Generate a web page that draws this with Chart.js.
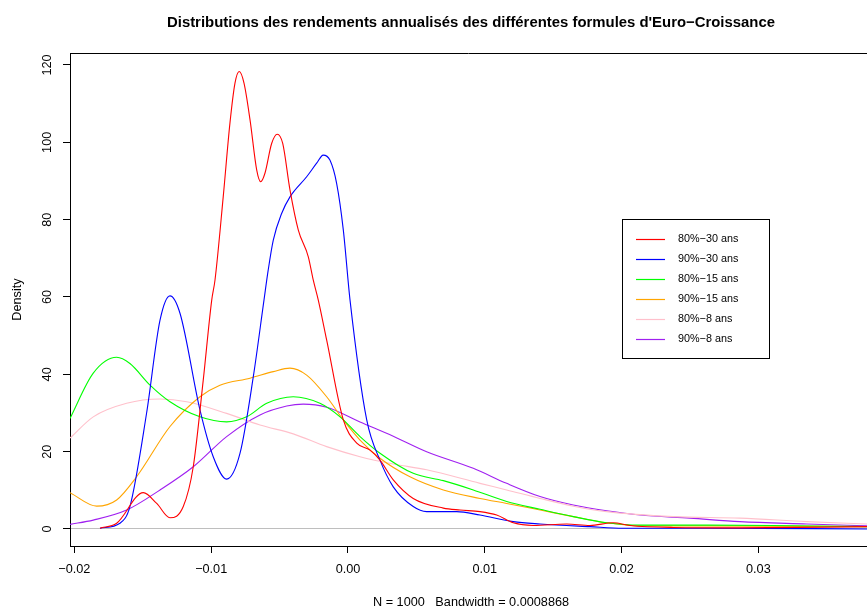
<html>
<head>
<title>Euro-Croissance</title>
</head>
<body style="margin:0;background:#fff">
<script src="https://cdn.jsdelivr.net/npm/chart.js@4.4.1/dist/chart.umd.min.js"></script>
<canvas id="myChart" width="867" height="607"></canvas>

<script type="text/javascript">
// densities, [x, density]
var red80_30 = [[-0.01813,0.2],[-0.01691,1.5],[-0.01496,9.4],[-0.01398,6.6],[-0.01301,2.9],[-0.01204,5.8],
  [-0.01131,16.1],[-0.01058,38.5],[-0.00996,59.2],[-0.00972,64.4],[-0.00912,85.9],[-0.00863,104.9],
  [-0.00826,115.3],[-0.00795,118.3],[-0.00760,115.3],[-0.00716,105.8],[-0.00667,92.8],[-0.00638,89.8],
  [-0.00607,92.0],[-0.00558,99.7],[-0.00517,102.1],[-0.00477,99.7],[-0.00424,87.7],[-0.00363,77.3],
  [-0.00290,70.4],[-0.00254,64.4],[-0.00217,59.2],[-0.00156,48.9],[-0.00034,28.2],[0.00064,22.2],
  [0.00161,20.4],[0.00234,17.8],[0.00331,12.7],[0.00477,7.9],[0.00697,5.4],[0.00819,4.9],[0.00965,4.5],
  [0.01087,3.6],[0.01208,1.6],[0.01355,0.9],[0.01599,1.3],[0.01769,0.9],[0.01939,1.6],[0.02061,0.9],
  [0.02378,0.4],[0.02865,0.3],[0.03794,0.6]];
var blue90_30 = [[-0.01813,0.2],[-0.01667,1.5],[-0.01594,5.8],[-0.01472,30.0],[-0.01374,54.0],[-0.01301,60.3],
  [-0.01228,55.8],[-0.01082,30.8],[-0.00985,18.7],[-0.00887,12.9],[-0.00789,19.6],[-0.00692,39.4],
  [-0.00614,59.2],[-0.00583,67.0],[-0.00546,74.7],[-0.00485,81.6],[-0.00424,85.9],[-0.00302,91.1],
  [-0.00229,94.6],[-0.00181,96.7],[-0.00132,95.4],[-0.00083,89.4],[-0.00034,77.3],[0.00015,59.2],
  [0.00137,28.2],[0.00234,17.8],[0.00331,10.9],[0.00477,5.8],[0.00575,4.5],[0.00795,4.5],[0.00965,3.6],
  [0.01208,1.9],[0.01404,1.3],[0.01769,0.6],[0.02012,0.2],[0.02622,0.2],[0.03794,0]];
var green80_15 = [[-0.02032,28.6],[-0.01862,40.3],[-0.01691,44.4],[-0.01594,42.8],[-0.01447,37.2],
  [-0.01301,32.9],[-0.01082,29.0],[-0.00887,27.7],[-0.00741,29.0],[-0.00594,32.5],[-0.00400,34.2],
  [-0.00205,32.5],[-0.00058,29.0],[0.00088,23.9],[0.00234,19.6],[0.00477,14.4],[0.00697,12.5],
  [0.00916,10.1],[0.01160,7.1],[0.01404,5.1],[0.01647,3.2],[0.01891,1.6],[0.02135,1.0],[0.02622,1.0],
  [0.03109,0.9],[0.03794,0.6]];
var orange90_15 = [[-0.02032,9.4],[-0.01837,5.9],[-0.01691,7.5],[-0.01545,13.5],[-0.01301,26.5],
  [-0.01082,34.2],[-0.00936,37.2],[-0.00716,39.0],[-0.00546,40.7],[-0.00424,41.6],[-0.00302,39.8],
  [-0.00156,34.2],[-0.00034,28.2],[0.00088,23.0],[0.00234,18.3],[0.00453,13.5],[0.00697,10.1],
  [0.00965,7.9],[0.01160,6.6],[0.01404,4.9],[0.01647,3.2],[0.01891,1.6],[0.02135,0.8],[0.02622,0.8],
  [0.03794,0.6]];
var pink80_8 = [[-0.02032,23.5],[-0.01862,29.0],[-0.01618,32.5],[-0.01374,33.6],[-0.01179,32.9],
  [-0.00887,29.9],[-0.00643,26.9],[-0.00400,24.6],[-0.00156,21.3],[0.00088,18.7],[0.00331,16.8],
  [0.00575,15.3],[0.00965,11.8],[0.01160,10.1],[0.01404,7.9],[0.01647,5.9],[0.01891,4.5],[0.02378,3.2],
  [0.02865,2.8],[0.03353,1.9],[0.03794,1.3]];
var purple90_8 = [[-0.02032,1.2],[-0.01862,2.3],[-0.01618,4.9],[-0.01374,10.1],[-0.01131,16.1],
  [-0.00887,23.9],[-0.00643,29.5],[-0.00448,31.8],[-0.00327,32.3],[-0.00156,31.5],[0.00088,27.7],
  [0.00331,24.0],[0.00575,20.0],[0.00916,15.7],[0.01160,11.8],[0.01404,8.4],[0.01647,6.2],[0.01891,4.7],
  [0.02135,3.6],[0.02500,2.8],[0.02865,1.9],[0.03353,1.3],[0.03794,0.8]];

var seriesLabels = ["80%\u221230 ans", "90%\u221230 ans", "80%\u221215 ans", "90%\u221215 ans", "80%\u22128 ans", "90%\u22128 ans"];
var seriesColors = ["#ff0000", "#0000ff", "#00ff00", "#ffa500", "#ffc0cb", "#a020f0"];
var allSeries = [red80_30, blue90_30, green80_15, orange90_15, pink80_8, purple90_8];

var xTicks = [-0.02, -0.01, 0, 0.01, 0.02, 0.03];
var xTickLabels = ["\u22120.02", "\u22120.01", "0.00", "0.01", "0.02", "0.03"];
var yTicks = [0, 20, 40, 60, 80, 100, 120];

var axisFont = '"Liberation Sans", Arial, sans-serif';

function toPoints(s) {
  return s.map(function (p) { return {x: p[0], y: p[1]}; });
}

var datasets = [];
for (var i = 0; i < allSeries.length; i++) {
  datasets.push({
    label: seriesLabels[i],
    data: toPoints(allSeries[i]),
    borderColor: seriesColors[i],
    borderWidth: 1.1,
    pointRadius: 0,
    fill: false,
    cubicInterpolationMode: 'monotone'
  });
}

// title, box top, y labels, legend: the R-ish bits
var extras = {
  id: 'extras',
  afterDraw: function (chart) {
    var ctx = chart.ctx, a = chart.chartArea, ys = chart.scales.y;
    ctx.save();
    ctx.strokeStyle = '#000';
    ctx.lineWidth = 1;
    ctx.beginPath();
    ctx.moveTo(a.left, a.top + 0.5);
    ctx.lineTo(a.right, a.top + 0.5);
    ctx.stroke();

    ctx.fillStyle = '#000';
    ctx.font = 'bold 14.9px ' + axisFont;
    ctx.textAlign = 'center';
    ctx.textBaseline = 'alphabetic';
    ctx.fillText("Distributions des rendements annualis\u00e9s des diff\u00e9rentes formules d'Euro\u2212Croissance", 471, 26.5);

    ctx.font = '12.7px ' + axisFont;
    ctx.textBaseline = 'middle';
    ctx.fillText("N = 1000   Bandwidth = 0.0008868", 471, 602);

    yTicks.forEach(function (v) {
      ctx.save();
      ctx.translate(47, ys.getPixelForValue(v));
      ctx.rotate(-Math.PI / 2);
      ctx.fillText(String(v), 0, 0);
      ctx.restore();
    });
    ctx.save();
    ctx.translate(17, (a.top + a.bottom) / 2);
    ctx.rotate(-Math.PI / 2);
    ctx.fillText("Density", 0, 0);
    ctx.restore();

    // legend box
    ctx.strokeRect(622.5, 219.5, 147, 139);
    ctx.font = '10.8px ' + axisFont;
    ctx.textAlign = 'left';
    for (var k = 0; k < seriesLabels.length; k++) {
      var yy = 239 + k * 20;
      ctx.strokeStyle = seriesColors[k];
      ctx.lineWidth = 1.2;
      ctx.beginPath();
      ctx.moveTo(636, yy + 0.5);
      ctx.lineTo(665, yy + 0.5);
      ctx.stroke();
      ctx.fillStyle = '#000';
      ctx.fillText(seriesLabels[k], 678, yy);
    }
    ctx.restore();
  }
};

var ctx = document.getElementById("myChart").getContext("2d");
var myChart = new Chart(ctx, {
  type: 'line',
  data: {datasets: datasets},
  plugins: [extras],
  options: {
    responsive: false,
    animation: false,
    layout: {padding: {top: 53, left: 0, right: 0, bottom: 0}},
    plugins: {legend: {display: false}, tooltip: {enabled: false}},
    scales: {
      x: {
        type: 'linear',
        min: -0.02032,
        max: 0.03794,
        afterBuildTicks: function (s) { s.ticks = xTicks.map(function (v) { return {value: v}; }); },
        afterFit: function (s) { s.height = 61; },
        grid: {drawOnChartArea: false, tickLength: 7, color: '#000'},
        border: {color: '#000', width: 1},
        ticks: {
          font: {family: axisFont, size: 12.7},
          color: '#000',
          padding: 9,
          maxRotation: 0,
          autoSkip: false,
          callback: function (v, idx) { return xTickLabels[idx]; }
        }
      },
      y: {
        type: 'linear',
        min: -4.4,
        max: 123.1,
        afterBuildTicks: function (s) { s.ticks = yTicks.map(function (v) { return {value: v}; }); },
        afterFit: function (s) { s.width = 70; },
        grid: {
          color: function (c) { return c.tick && c.tick.value === 0 ? '#bebebe' : 'rgba(0,0,0,0)'; },
          tickColor: '#000',
          tickLength: 7
        },
        border: {color: '#000', width: 1},
        ticks: {display: false}
      }
    }
  }
});
</script>
</body>
</html>
